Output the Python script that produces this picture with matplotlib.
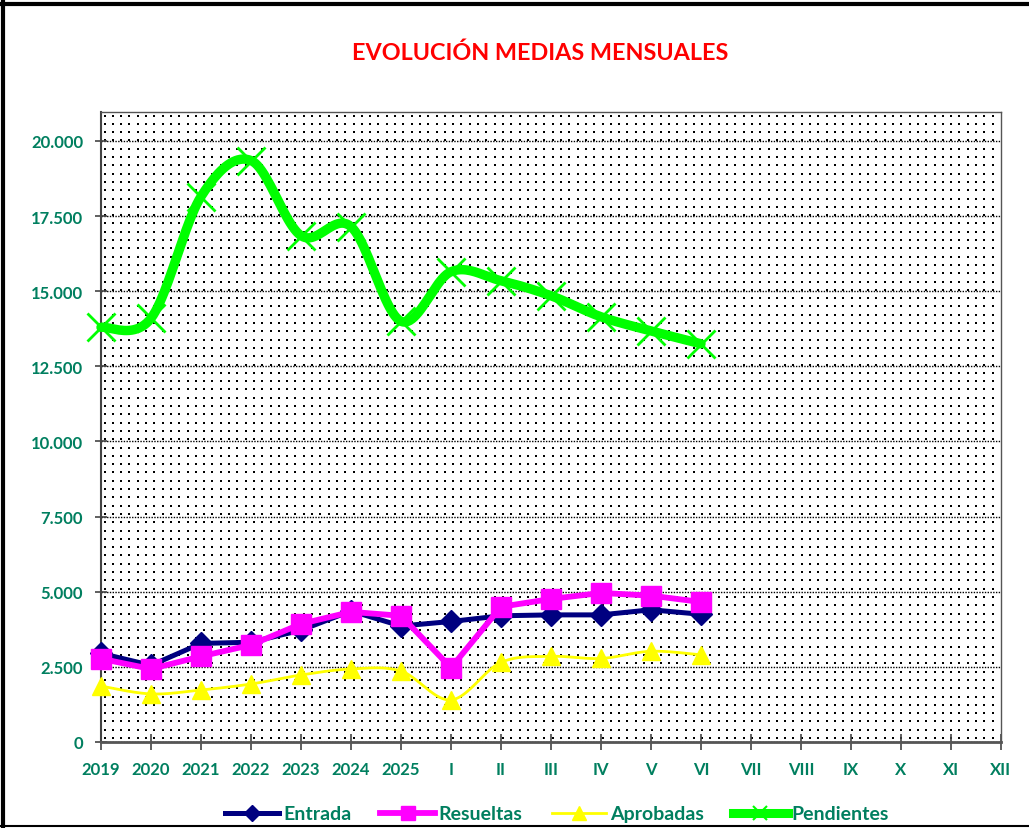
import numpy as np
import matplotlib
matplotlib.use("Agg")
import matplotlib.pyplot as plt
import matplotlib.ticker as ticker
from matplotlib.lines import Line2D

categories = ['2019', '2020', '2021', '2022', '2023', '2024', '2025',
              'I', 'II', 'III', 'IV', 'V', 'VI', 'VII', 'VIII', 'IX', 'X', 'XI', 'XII']
entrada = [2950, 2550, 3280, 3320, 3720, 4360, 3860, 4010, 4200, 4230, 4230, 4400, 4250]
resueltas = [2770, 2430, 2850, 3230, 3930, 4330, 4200, 2470, 4500, 4760, 4960, 4870, 4660]
aprobadas = [1860, 1600, 1730, 1930, 2230, 2430, 2360, 1400, 2650, 2850, 2780, 3020, 2900]
pendientes = [13800, 14100, 18150, 19350, 16850, 17150, 14000, 15650, 15350, 14850, 14150, 13680, 13250]

TEAL = '#007F5F'
FONT = 'Lato'


def smooth(ys, n=24):
    # excel style smoothing (bezier through the points)
    pts = np.array([[i, y] for i, y in enumerate(ys)], dtype=float)
    out = []
    t = np.linspace(0, 1, n)[:, None]
    for i in range(len(pts) - 1):
        p0 = pts[i - 1] if i > 0 else pts[i]
        p1 = pts[i]
        p2 = pts[i + 1]
        p3 = pts[i + 2] if i + 2 < len(pts) else pts[i + 1]
        c1 = p1 + (p2 - p0) / 6.0
        c2 = p2 - (p3 - p1) / 6.0
        seg = ((1 - t) ** 3) * p1 + 3 * ((1 - t) ** 2) * t * c1 + 3 * (1 - t) * t ** 2 * c2 + t ** 3 * p2
        out.append(seg if i == 0 else seg[1:])
    seg = np.vstack(out)
    return seg[:, 0], seg[:, 1]


def dot_pattern(w, h, step=8.3):
    img = np.ones((h, w, 3))
    for r in np.arange(3, h - 1, step):
        for c in np.arange(3, w - 1, step):
            ri, ci = int(r), int(c)
            img[ri:ri + 2, ci:ci + 2] = 0.0
    return img


plt.rcParams['font.family'] = [FONT, 'DejaVu Sans']

fig = plt.figure(figsize=(10.29, 8.29), dpi=100)
ax = fig.add_axes([101 / 1029, 86 / 829, 900 / 1029, 630 / 829])

ax.imshow(dot_pattern(900, 630), extent=[0, 1, 0, 1], transform=ax.transAxes,
          aspect='auto', interpolation='nearest', zorder=0.1)

x = np.arange(len(entrada))

ax.plot(x, entrada, color='#000080', lw=3.6, marker='D', ms=11, zorder=3, clip_on=False)
ax.plot(x, resueltas, color='#FF00FF', lw=4.2, marker='s', ms=15, zorder=4, clip_on=False)
sx, sy = smooth(aprobadas)
ax.plot(sx, sy, color='#FFFF00', lw=2.0, zorder=5, clip_on=False)
ax.plot(x, aprobadas, ls='none', color='#FFFF00', marker='^', ms=13, zorder=5, clip_on=False)
sx, sy = smooth(pendientes)
ax.plot(sx, sy, color='#00FF00', lw=6.8, zorder=6, clip_on=False, solid_capstyle='round')
ax.plot(x, pendientes, ls='none', color='#00FF00', marker='x', ms=20, mew=2.0, zorder=6, clip_on=False)

ax.set_xlim(0, len(categories) - 1)
ax.set_ylim(0, 20965)
ax.set_xticks(range(len(categories)))
ax.set_xticklabels(categories)
ax.set_yticks(np.arange(0, 20001, 2500))
ax.yaxis.set_major_formatter(ticker.FuncFormatter(lambda v, p: '{:,}'.format(int(v)).replace(',', '.')))

ax.set_axisbelow(True)
ax.yaxis.grid(True, color='black', linestyle=(0, (1.0, 1.0)), lw=1.0)

for s in ['top', 'right']:
    ax.spines[s].set_linestyle((0, (1.5, 1.0)))
    ax.spines[s].set_color('#555555')
    ax.spines[s].set_linewidth(1.0)
ax.spines['left'].set_color('#444444')
ax.spines['left'].set_linewidth(1.5)
ax.spines['bottom'].set_color('#555555')
ax.spines['bottom'].set_linewidth(2.0)

ax.tick_params(axis='y', direction='inout', length=8.6, width=1.2, color='#444444', pad=8.5,
               labelsize=12, labelcolor=TEAL)
ax.tick_params(axis='x', direction='inout', length=12, width=1.2, color='#444444', pad=8,
               labelsize=12, labelcolor=TEAL)
for lab in ax.get_xticklabels() + ax.get_yticklabels():
    lab.set_fontweight('bold')

fig.text(540 / 1029, 1 - 53 / 829, 'EVOLUCIÓN MEDIAS MENSUALES', color='#FF0000',
         fontsize=16.8, fontweight='bold', ha='center', va='center')

handles = [
    Line2D([], [], color='#000080', lw=3.6, marker='D', ms=8),
    Line2D([], [], color='#FF00FF', lw=4.2, marker='s', ms=10),
    Line2D([], [], color='#FFFF00', lw=2.0, marker='^', ms=10),
    Line2D([], [], color='#00FF00', lw=6.5, marker='x', ms=10, mew=1.5),
]
labels = ['Entrada', 'Resueltas', 'Aprobadas', 'Pendientes']
fig.legend(handles, labels, loc='center', bbox_to_anchor=(0.541, 14 / 829), ncol=4, frameon=False,
           handlelength=2.8, handletextpad=0.2, columnspacing=1.5,
           prop={'family': FONT, 'weight': 'bold', 'size': 14}, labelcolor=TEAL)

# outer frame like the excel chart area
fig.add_artist(Line2D([3 / 1029, 3 / 1029], [0, 1], transform=fig.transFigure, color='black', lw=3))
fig.add_artist(Line2D([0, 1], [1 - 5 / 829, 1 - 5 / 829], transform=fig.transFigure, color='black', lw=3))
fig.add_artist(Line2D([0, 1], [2 / 829, 2 / 829], transform=fig.transFigure, color='black', lw=1.5))

plt.savefig('out.png', dpi=100)
